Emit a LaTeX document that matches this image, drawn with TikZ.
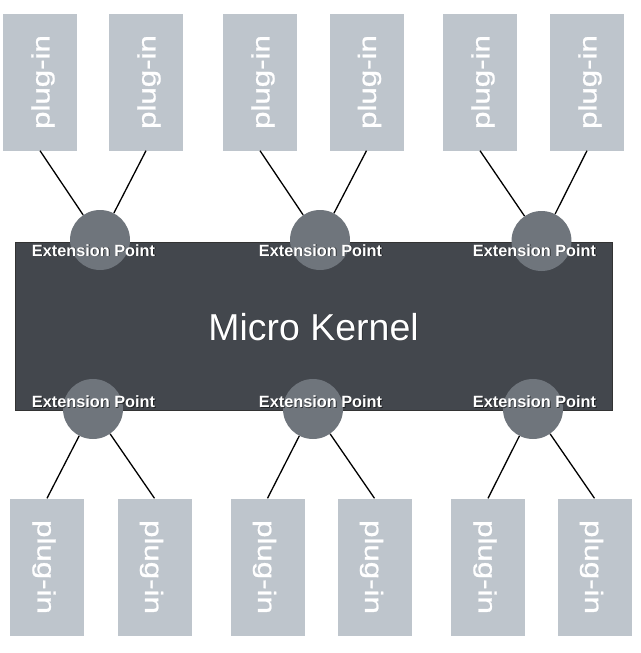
\documentclass[tikz,border=0pt]{standalone}
\usepackage{fontspec}
\setmainfont{Liberation Sans}
\newfontfamily\plugfont[FakeBold=0.9]{Liberation Sans}
\usepackage{graphicx}
\definecolor{boxgray}{HTML}{BEC5CC}
\definecolor{kernelgray}{HTML}{43474D}
\definecolor{epgray}{HTML}{6F757C}
\begin{document}
\begin{tikzpicture}[x=1pt,y=-1pt,
  pbox/.style={fill=boxgray, draw=none, minimum width=74pt, minimum height=137pt, inner sep=0pt},
  ptxt/.style={text=white, font=\plugfont\fontsize{25}{25}\selectfont, inner sep=0pt},
  epcircle/.style={circle, fill=epgray, draw=none, minimum size=60pt, inner sep=0pt},
  eplabel/.style={text=white, font=\fontsize{16.3}{16}\selectfont\bfseries, inner sep=0pt, anchor=base},
  epshadow/.style={eplabel, text=black, opacity=0.55},
  link/.style={draw=black, line width=1.3pt}
]
\useasboundingbox (0,0) rectangle (640,653);
% kernel
\node[fill=kernelgray, draw=black!80, line width=0.6pt, minimum width=597pt, minimum height=168pt, inner sep=0pt] (kernel) at (313.5,326) {};
\node[text=black, opacity=0.4, font=\fontsize{37.5}{37}\selectfont, inner sep=0pt, anchor=base] (ktxts) at (314.3,340.8) {Micro Kernel};
\node[text=white, font=\fontsize{37.5}{37}\selectfont, inner sep=0pt, anchor=base] (ktxt) at (313.5,340) {Micro Kernel};
% top plug-ins
\foreach \n/\x in {1/40,2/146,3/260,4/366.5,5/480,6/587}{
  \node[pbox] (t\n) at (\x,82) {};
  \node[ptxt, rotate=90] (t\n l) at ([xshift=3pt]t\n.center) {\scalebox{1.25}[1]{plug-in}};
}
% bottom plug-ins
\foreach \n/\x in {1/47,2/154.5,3/267.5,4/374.5,5/488,6/594.5}{
  \node[pbox] (b\n) at (\x,567) {};
  \node[ptxt, rotate=-90] (b\n l) at ([xshift=-3pt]b\n.center) {\scalebox{1.25}[1]{plug-in}};
}
% extension points
\node[epcircle] (ct1) at (100,240) {};
\node[epcircle] (ct2) at (320,240) {};
\node[epcircle] (ct3) at (541.5,241) {};
\node[epcircle] (cb1) at (93,409) {};
\node[epcircle] (cb2) at (313,409) {};
\node[epcircle] (cb3) at (533,409) {};
% connectors
\draw[link] (t1.south) -- (ct1);
\draw[link] (t2.south) -- (ct1);
\draw[link] (t3.south) -- (ct2);
\draw[link] (t4.south) -- (ct2);
\draw[link] (t5.south) -- (ct3);
\draw[link] (t6.south) -- (ct3);
\draw[link] (b1.north) -- (cb1);
\draw[link] (b2.north) -- (cb1);
\draw[link] (b3.north) -- (cb2);
\draw[link] (b4.north) -- (cb2);
\draw[link] (b5.north) -- (cb3);
\draw[link] (b6.north) -- (cb3);
% labels with soft shadow
\foreach \n/\x/\y in {t1/93.5/256,t2/320.5/256,t3/534.5/256,b1/93.5/407.5,b2/320.5/407.5,b3/534.5/407.5}{
  \node[epshadow] (s\n) at (\x+0.9,\y+0.9) {Extension Point};
  \node[eplabel] (l\n) at (\x,\y) {Extension Point};
}
\end{tikzpicture}
\end{document}
